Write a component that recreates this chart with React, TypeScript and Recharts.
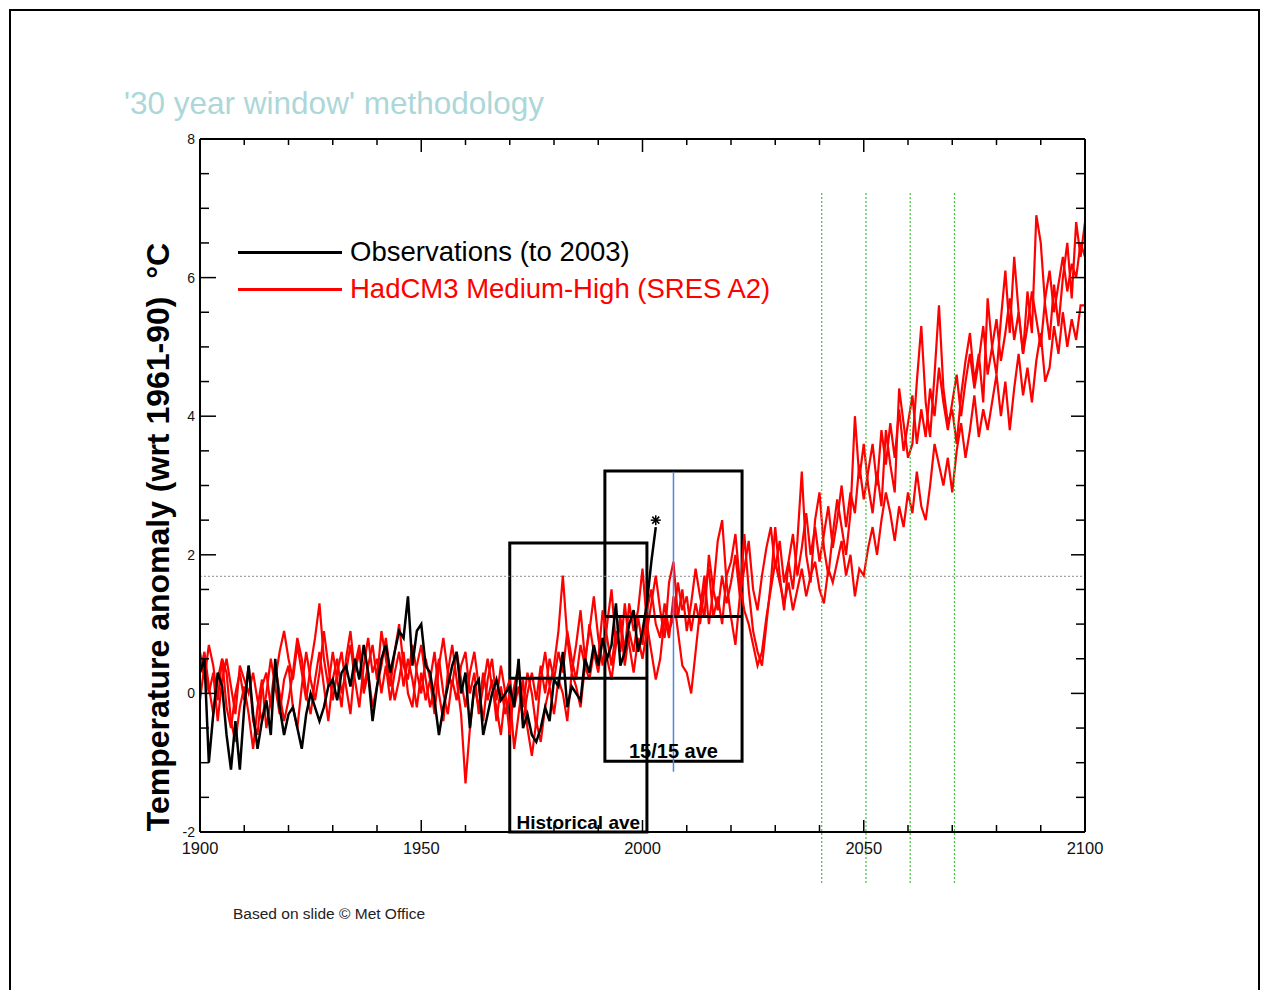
import React from 'react';
import {
  ComposedChart,
  Line,
  XAxis,
  YAxis,
  ReferenceLine,
  ReferenceArea,
  ReferenceDot,
} from 'recharts';

// ---------- data ----------
const START_YEAR = 1900;

// HadCM3 ensemble members (annual anomalies, 1900-2100)
const member1 = [
  0.3, 0.6, 0.1, -0.3, 0.2, 0.5, -0.2, -0.5, 0.0, 0.3,
  -0.1, 0.4, -0.4, -0.6, 0.1, 0.3, -0.2, 0.2, 0.6, 0.9,
  0.5, 0.2, 0.7, 0.3, -0.1, 0.4, 0.8, 1.3, 0.5, 0.1,
  0.6, 0.2, -0.2, 0.5, 0.9, 0.3, 0.6, 0.1, 0.4, 0.7,
  0.2, 0.9, 0.5, 0.1, 0.6, 1.0, 0.4, 0.2, 0.7, 0.3,
  0.0, 0.5, 0.2, -0.3, 0.4, 0.8, 0.3, 0.1, 0.6, 0.2,
  -0.2, 0.3, 0.6, 0.1, -0.4, 0.2, 0.5, -0.1, 0.4, 0.0,
  -0.6, 0.1, 0.4, -0.2, 0.3, 0.0, -0.5, 0.2, 0.6, 0.1,
  0.4, 0.9, 1.7, 0.8, 0.3, 0.7, 1.2, 0.5, 0.9, 1.4,
  0.8, 0.4, 1.0, 1.5, 0.7, 1.1, 0.6, 1.3, 0.9, 1.2,
  1.8, 1.0, 0.6, 0.2, 0.5, 1.1, 0.8, 1.4, 0.9, 0.4,
  0.3, 0.0, 0.6, 1.2, 1.7, 1.0, 1.5, 2.2, 2.5, 1.6,
  1.1, 0.7, 1.4, 2.3, 1.5, 0.9, 0.6, 0.4, 1.0, 1.6,
  2.4, 1.7, 1.2, 1.9, 1.5, 2.2, 3.2, 2.0, 1.6, 2.5,
  2.9, 2.1, 1.7, 2.3, 2.8, 2.4, 2.0, 2.6, 4.0, 3.1,
  3.6, 3.0, 2.6, 3.2, 2.7, 3.8, 3.3, 2.9, 4.4, 3.9,
  3.4, 3.6, 4.5, 5.3, 4.2, 3.7, 4.6, 5.6, 4.4, 3.9,
  4.1, 3.6, 4.3, 4.8, 5.2, 4.5, 4.9, 4.2, 5.7, 5.0,
  4.6, 5.4, 6.1, 5.2, 6.3, 5.5, 4.9, 5.8, 5.2, 6.9,
  6.5, 5.6, 5.1, 5.9, 5.3, 6.0, 6.5, 5.7, 6.8, 6.3,
  6.8,
];

const member2 = [
  0.6, 0.2, 0.7, 0.4, -0.1, 0.5, 0.3, -0.4, -0.7, -0.2,
  0.1, -0.3, -0.8, -0.2, 0.2, -0.5, -0.1, 0.4, 0.0, -0.4,
  -0.1, 0.3, 0.8, 0.5, 0.0, -0.3, 0.2, 0.6, 0.1, -0.4,
  0.2, 0.5, 0.0, 0.3, 0.7, 0.2, -0.2, 0.4, 0.8, 0.3,
  0.5, 0.0, 0.4, -0.1, 0.3, 0.6, 0.1, 0.5, 0.2, -0.2,
  0.3, -0.1, 0.2, 0.6, 0.0, -0.4, 0.3, 0.7, 0.2, -0.3,
  -1.3, -0.5, 0.1, -0.2, 0.3, -0.1, 0.2, -0.4, 0.1, -0.3,
  0.0, -0.8, -0.3, 0.2, -0.5, -0.9, -0.4, -0.7, -0.2, 0.1,
  -0.3, 0.2, 0.0, -0.4, 0.3, 0.1, -0.2, 0.4, 0.2, 0.6,
  0.3, 0.8, 0.5, 0.2, 0.7, 1.0, 0.4, 0.9, 0.6, 1.1,
  0.7, 1.2, 1.5, 1.0, 0.8, 1.3, 0.9, 1.1, 1.6, 1.2,
  1.4, 0.9, 1.3, 1.0, 1.5, 1.8, 1.1, 1.4, 1.0, 1.7,
  1.9, 2.3, 1.6, 1.2, 1.0, 0.7, 0.4, 0.6, 1.1, 1.5,
  1.9, 1.6, 1.3, 1.6, 1.2, 1.5, 1.8, 1.4, 1.7, 1.9,
  1.5, 1.3, 1.8, 1.6, 1.9, 2.2, 1.7, 2.0, 1.4, 1.8,
  1.7, 2.1, 2.4, 2.0, 2.5, 2.9, 2.6, 2.2, 2.7, 2.4,
  2.9, 2.6, 3.2, 2.7, 2.5, 3.0, 3.6, 3.3, 3.0, 3.4,
  2.9, 3.5, 3.9, 3.4, 3.8, 4.3, 3.7, 4.1, 3.8, 4.2,
  4.6, 4.0, 4.5, 3.8, 4.4, 4.9, 4.3, 4.7, 4.2, 4.8,
  5.2, 4.5, 4.7, 5.3, 4.9, 5.5, 5.0, 5.4, 5.1, 5.6,
  5.6,
];

const member3 = [
  -0.1, 0.4, 0.0, 0.3, -0.4, 0.2, 0.5, 0.1, -0.3, 0.4,
  0.2, 0.0, 0.3, -0.1, -0.4, 0.0, 0.5, 0.1, -0.3, 0.2,
  0.4, -0.2, -0.5, 0.1, 0.6, 0.2, -0.1, 0.3, 0.9, 0.4,
  -0.1, 0.3, 0.6, 0.1, -0.3, 0.4, 0.7, 0.0, 0.3, -0.2,
  0.1, 0.4, 0.8, 0.3, -0.1, 0.2, 0.6, 0.0, -0.2, 0.4,
  0.7, 0.2, -0.2, 0.1, 0.5, 0.0, -0.3, 0.2, -0.1, 0.4,
  0.6, 0.0, 0.3, -0.3, 0.1, 0.5, 0.1, -0.2, -0.6, 0.0,
  0.2, -0.2, 0.1, -0.4, 0.0, 0.3, -0.1, 0.4, 0.0, 0.5,
  0.2, 0.6, 0.3, 0.9, 0.5, 0.2, 0.7, 0.4, 1.0, 0.6,
  0.5, 1.2, 0.8, 0.4, 0.9, 0.6, 1.3, 0.7, 0.3, 0.8,
  0.5, 0.9, 1.3, 1.7, 1.2, 0.8, 1.6, 1.9, 1.1, 1.5,
  0.9, 1.3, 1.8, 1.4, 1.1, 2.0, 1.5, 1.2, 1.7, 1.3,
  1.6, 2.0, 1.4, 1.8, 2.2, 1.5, 1.2, 1.7, 2.1, 2.4,
  1.8, 2.2, 1.6, 1.9, 2.3, 1.7, 2.1, 2.6, 2.0, 2.4,
  1.9, 2.3, 2.7, 2.1, 2.5, 3.0, 2.4, 2.9, 2.6, 3.3,
  2.8, 3.2, 3.6, 3.0, 3.8, 3.3, 3.9, 3.4, 4.1, 3.5,
  3.9, 4.3, 3.6, 4.1, 3.7, 4.4, 4.0, 4.7, 4.2, 3.8,
  4.2, 4.6, 4.0, 4.5, 4.9, 4.4, 4.8, 5.3, 4.6, 5.0,
  5.4, 4.8, 5.2, 5.7, 5.1, 5.5, 4.9, 5.3, 5.8, 5.4,
  5.0, 5.7, 6.1, 5.5, 5.9, 6.3, 5.8, 6.2, 6.0, 6.5,
  6.3,
];

// Observations 1900-2003
const observations = [
  0.3, 0.5, -1.0, -0.3, 0.3, 0.1, -0.6, -1.1, -0.4, -1.1,
  -0.2, 0.4, -0.3, -0.8, -0.4, -0.1, -0.6, 0.5, -0.2, -0.6,
  -0.3, -0.2, -0.5, -0.8, -0.3, 0.0, -0.2, -0.4, -0.2, 0.1,
  0.2, -0.1, 0.3, 0.4, 0.1, 0.5, 0.2, 0.7, 0.3, -0.4,
  0.1, 0.5, 0.7, 0.3, 0.6, 0.9, 0.8, 1.4, 0.4, 0.9,
  1.0, 0.4, 0.3, -0.1, -0.6, -0.2, 0.1, 0.4, 0.6, 0.0,
  0.3, -0.5, 0.1, 0.2, -0.6, -0.3, 0.0, 0.2, -0.1, 0.0,
  0.1, -0.2, 0.5, -0.5, -0.3, -0.6, -0.7, -0.5, -0.2, -0.4,
  0.2, 0.1, 0.6, -0.2, 0.1, 0.0, -0.1, 0.5, 0.3, 0.7,
  0.4, 0.8, 0.5, 0.7, 1.3, 0.4, 0.6, 1.0, 1.2, 0.6,
  0.9, 1.3, 1.9, 2.4,
];

const lastObservation = { year: 2003, value: 2.5 };

const xTicks = [
  1900, 1910, 1920, 1930, 1940, 1950, 1960, 1970, 1980, 1990, 2000,
  2010, 2020, 2030, 2040, 2050, 2060, 2070, 2080, 2090, 2100,
];
const xLabelTicks = [1900, 1950, 2000, 2050, 2100];
const yTicks = [
  -2, -1.5, -1, -0.5, 0, 0.5, 1, 1.5, 2, 2.5, 3, 3.5, 4, 4.5, 5, 5.5, 6, 6.5, 7, 7.5, 8,
];
const yLabelTicks = [-2, 0, 2, 4, 6, 8];

// 30-year windows
const historicalWindow = { from: 1970, to: 2001, top: 2.17, mean: 0.22 };
const centredWindow = { from: 1991.5, to: 2022.5, top: 3.21, bottom: -0.98, mean: 1.11 };
const centreYear = { year: 2007, top: 3.2, bottom: -1.13 };
const thresholdLevel = 1.69;
const futureWindowYears = [2040.5, 2050.5, 2060.5, 2070.5];
const futureWindowRange = { top: 7.22, bottom: -2.74 };

const legendItems = [
  { label: 'Observations (to 2003)', color: '#000000' },
  { label: 'HadCM3 Medium-High (SRES A2)', color: '#ff0000' },
];

const data = member1.map((v, i) => ({
  year: START_YEAR + i,
  m1: v,
  m2: member2[i],
  m3: member3[i],
  obs: i < observations.length ? observations[i] : null,
}));

// ---------- ticks ----------
const TM = 4;
const FONT = '"Liberation Sans", Arial, Helvetica, sans-serif';

const BottomTick = (props: any) => {
  const { x, y, payload } = props;
  const axisY = y - TM;
  const major = xLabelTicks.includes(payload.value);
  return (
    <g>
      <line x1={x} x2={x} y1={axisY} y2={axisY - (major ? 12 : 7)} stroke="#000" strokeWidth={1.5} />
      {major && (
        <text x={x} y={axisY + 22} textAnchor="middle" fontSize={16.5} fill="#111" fontFamily={FONT}>
          {payload.value}
        </text>
      )}
    </g>
  );
};

const TopTick = (props: any) => {
  const { x, y, payload } = props;
  const axisY = y + TM;
  const major = xLabelTicks.includes(payload.value);
  return (
    <line x1={x} x2={x} y1={axisY} y2={axisY + (major ? 13 : 6)} stroke="#000" strokeWidth={1.5} />
  );
};

const LeftTick = (props: any) => {
  const { x, y, payload } = props;
  const axisX = x + TM;
  const major = yLabelTicks.includes(payload.value);
  return (
    <g>
      <line x1={axisX} x2={axisX + (major ? 16 : 9)} y1={y} y2={y} stroke="#000" strokeWidth={1.5} />
      {major && (
        <text x={axisX - 5} y={y + 5} textAnchor="end" fontSize={14} fill="#111" fontFamily={FONT}>
          {payload.value}
        </text>
      )}
    </g>
  );
};

const RightTick = (props: any) => {
  const { x, y, payload } = props;
  const axisX = x - TM;
  const major = yLabelTicks.includes(payload.value);
  return <line x1={axisX} x2={axisX - (major ? 14 : 9)} y1={y} y2={y} stroke="#000" strokeWidth={1.5} />;
};

const Asterisk = (props: any) => {
  const { cx, cy } = props;
  const r = 5;
  return (
    <g stroke="#000" strokeWidth={1.5}>
      <line x1={cx - r} x2={cx + r} y1={cy} y2={cy} />
      <line x1={cx} x2={cx} y1={cy - r} y2={cy + r} />
      <line x1={cx - r * 0.7} x2={cx + r * 0.7} y1={cy - r * 0.7} y2={cy + r * 0.7} />
      <line x1={cx - r * 0.7} x2={cx + r * 0.7} y1={cy + r * 0.7} y2={cy - r * 0.7} />
    </g>
  );
};

export default function App() {
  return (
    <div
      style={{
        position: 'absolute',
        left: 0,
        top: 0,
        width: 1263,
        height: 990,
        overflow: 'hidden',
        background: '#fff',
        fontFamily: FONT,
      }}
    >
      {/* slide frame */}
      <div
        style={{
          position: 'absolute',
          left: 9,
          top: 9,
          width: 1247,
          height: 990,
          border: '2px solid #000',
          borderBottom: 'none',
        }}
      />
      {/* title */}
      <div
        style={{
          position: 'absolute',
          left: 124,
          top: 87,
          fontSize: 31.5,
          lineHeight: '32px',
          color: '#acd7d9',
          whiteSpace: 'nowrap',
        }}
      >
        '30 year window' methodology
      </div>

      <div style={{ position: 'absolute', left: 0, top: 0 }}>
        <ComposedChart
          width={1263}
          height={990}
          data={data}
          margin={{ top: 129, right: 168, bottom: 128, left: 160 }}
        >
          <XAxis
            xAxisId="b"
            dataKey="year"
            type="number"
            domain={[1900, 2100]}
            allowDataOverflow
            ticks={xTicks}
            interval={0}
            orientation="bottom"
            height={30}
            tickSize={0}
            tickMargin={TM}
            tickLine={false}
            tick={<BottomTick />}
            axisLine={{ stroke: '#000', strokeWidth: 2 }}
          />
          <XAxis
            xAxisId="t"
            dataKey="year"
            type="number"
            domain={[1900, 2100]}
            allowDataOverflow
            ticks={xTicks}
            interval={0}
            orientation="top"
            height={10}
            tickSize={0}
            tickMargin={TM}
            tickLine={false}
            tick={<TopTick />}
            axisLine={{ stroke: '#000', strokeWidth: 2 }}
          />
          <YAxis
            yAxisId="l"
            type="number"
            domain={[-2, 8]}
            allowDataOverflow
            ticks={yTicks}
            interval={0}
            orientation="left"
            width={40}
            tickSize={0}
            tickMargin={TM}
            tickLine={false}
            tick={<LeftTick />}
            axisLine={{ stroke: '#000', strokeWidth: 2 }}
          />
          <YAxis
            yAxisId="r"
            type="number"
            domain={[-2, 8]}
            allowDataOverflow
            ticks={yTicks}
            interval={0}
            orientation="right"
            width={10}
            tickSize={0}
            tickMargin={TM}
            tickLine={false}
            tick={<RightTick />}
            axisLine={{ stroke: '#000', strokeWidth: 2 }}
          />

          <ReferenceLine
            xAxisId="b"
            yAxisId="l"
            y={thresholdLevel}
            stroke="#8a8a8a"
            strokeWidth={1}
            strokeDasharray="2 2"
          />

          <Line xAxisId="b" yAxisId="l" dataKey="m2" stroke="#ff0000" strokeWidth={2.2} dot={false} isAnimationActive={false} />
          <Line xAxisId="b" yAxisId="l" dataKey="m3" stroke="#ff0000" strokeWidth={2.2} dot={false} isAnimationActive={false} />
          <Line xAxisId="b" yAxisId="l" dataKey="m1" stroke="#ff0000" strokeWidth={2.2} dot={false} isAnimationActive={false} />
          <Line xAxisId="b" yAxisId="l" dataKey="obs" stroke="#000000" strokeWidth={2.5} dot={false} isAnimationActive={false} />

          {futureWindowYears.map((yr) => (
            <ReferenceLine
              key={yr}
              xAxisId="b"
              yAxisId="l"
              ifOverflow="visible"
              segment={[
                { x: yr, y: futureWindowRange.top },
                { x: yr, y: futureWindowRange.bottom },
              ]}
              stroke="#3ec23e"
              strokeWidth={1.2}
              strokeDasharray="2 2"
            />
          ))}

          <ReferenceArea
            xAxisId="b"
            yAxisId="l"
            x1={historicalWindow.from}
            x2={historicalWindow.to}
            y1={-2}
            y2={historicalWindow.top}
            fill="none"
            fillOpacity={0}
            stroke="#000"
            strokeWidth={3}
            ifOverflow="visible"
            label={{ value: 'Historical ave', position: 'insideBottom', offset: 3, fill: '#000', fontSize: 19, fontWeight: 'bold' }}
          />
          <ReferenceArea
            xAxisId="b"
            yAxisId="l"
            x1={centredWindow.from}
            x2={centredWindow.to}
            y1={centredWindow.bottom}
            y2={centredWindow.top}
            fill="none"
            fillOpacity={0}
            stroke="#000"
            strokeWidth={3}
            ifOverflow="visible"
            label={{ value: '15/15 ave', position: 'insideBottom', offset: 3, fill: '#000', fontSize: 20, fontWeight: 'bold' }}
          />
          <ReferenceLine
            xAxisId="b"
            yAxisId="l"
            ifOverflow="visible"
            segment={[
              { x: historicalWindow.from, y: historicalWindow.mean },
              { x: historicalWindow.to, y: historicalWindow.mean },
            ]}
            stroke="#000"
            strokeWidth={3}
          />
          <ReferenceLine
            xAxisId="b"
            yAxisId="l"
            ifOverflow="visible"
            segment={[
              { x: centredWindow.from, y: centredWindow.mean },
              { x: centredWindow.to, y: centredWindow.mean },
            ]}
            stroke="#000"
            strokeWidth={3}
          />
          <ReferenceLine
            xAxisId="b"
            yAxisId="l"
            ifOverflow="visible"
            segment={[
              { x: centreYear.year, y: centreYear.top },
              { x: centreYear.year, y: centreYear.bottom },
            ]}
            stroke="#4f86e0"
            strokeWidth={1.5}
          />
          <ReferenceDot
            xAxisId="b"
            yAxisId="l"
            x={lastObservation.year}
            y={lastObservation.value}
            r={5}
            shape={<Asterisk />}
          />
        </ComposedChart>
      </div>

      {/* legend */}
      {legendItems.map((item, i) => (
        <div
          key={item.label}
          style={{
            position: 'absolute',
            left: 238,
            top: 236 + i * 37,
            height: 32,
            display: 'flex',
            alignItems: 'center',
            whiteSpace: 'nowrap',
          }}
        >
          <div style={{ width: 104, height: 3, background: item.color, marginRight: 8 }} />
          <span style={{ fontSize: 27.5, color: item.color }}>{item.label}</span>
        </div>
      ))}

      {/* y axis title */}
      <div
        style={{
          position: 'absolute',
          left: 158,
          top: 537,
          transform: 'translate(-50%, -50%) rotate(-90deg)',
          fontSize: 32,
          fontWeight: 'bold',
          whiteSpace: 'nowrap',
          color: '#000',
        }}
      >
        Temperature anomaly (wrt 1961-90)&nbsp;&nbsp;°C
      </div>

      {/* source */}
      <div
        style={{
          position: 'absolute',
          left: 233,
          top: 905,
          fontSize: 15.5,
          color: '#222',
          whiteSpace: 'nowrap',
        }}
      >
        Based on slide © Met Office
      </div>
    </div>
  );
}
